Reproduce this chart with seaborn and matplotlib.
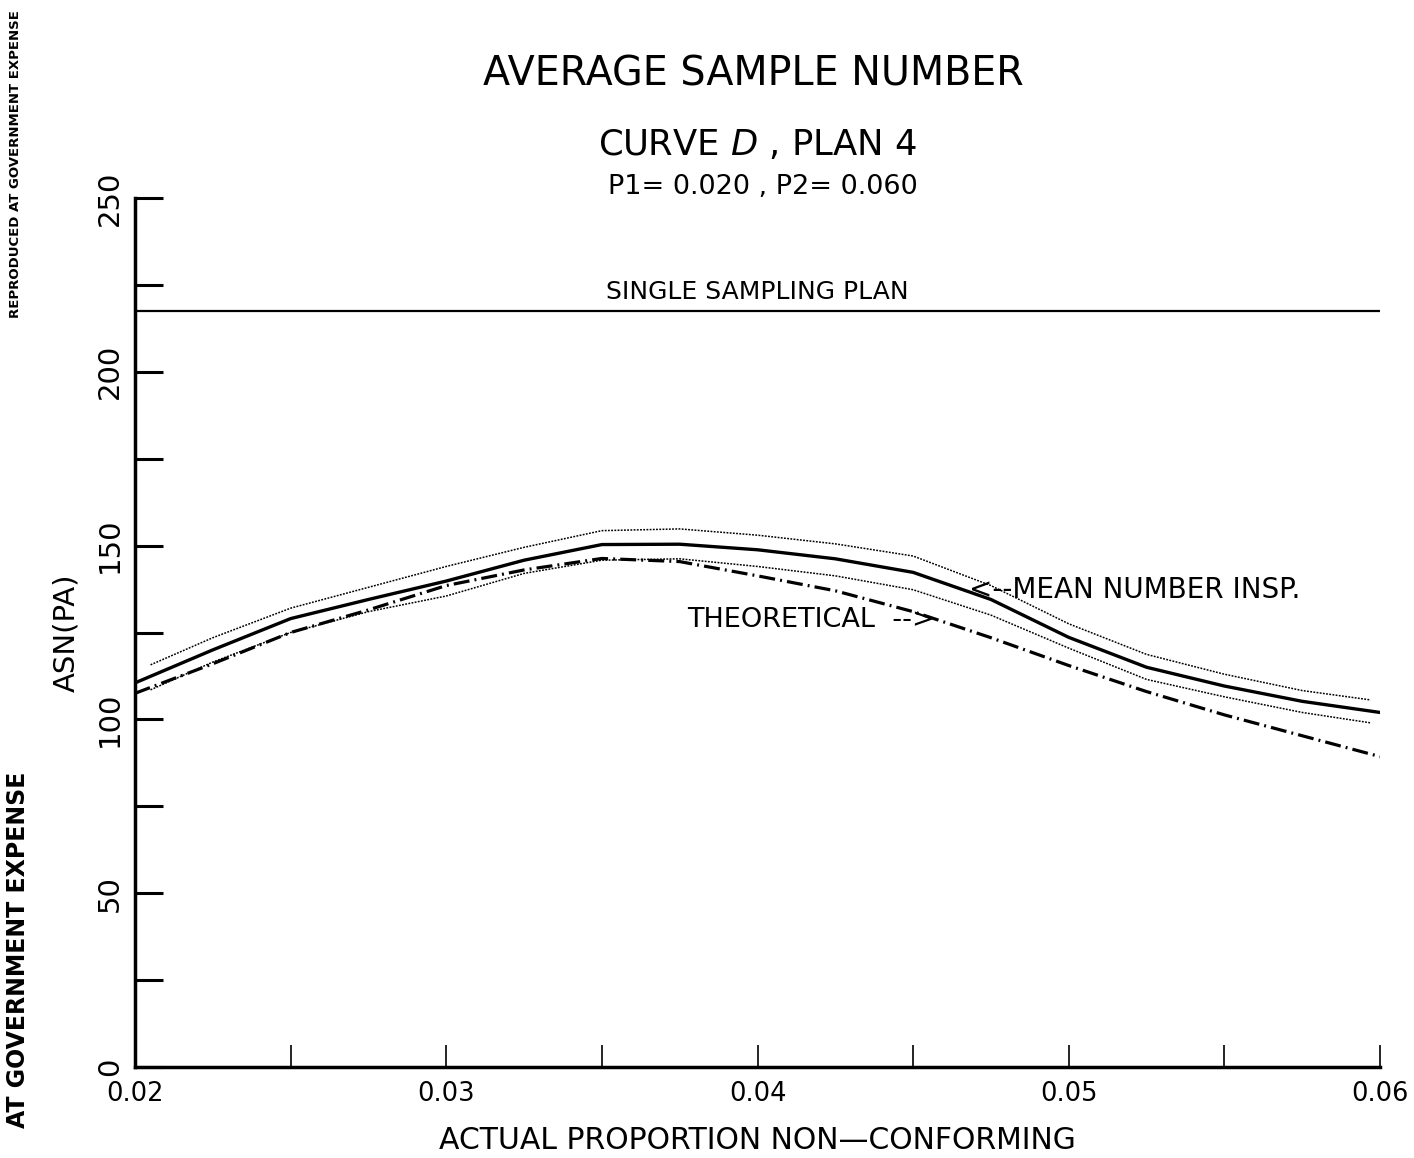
import numpy as np
import pandas as pd
import matplotlib
matplotlib.use("Agg")
import matplotlib.pyplot as plt
import seaborn as sns
from matplotlib.ticker import MultipleLocator, FormatStrFormatter

# ---- data ----
p = [0.0200, 0.0225, 0.0250, 0.0275, 0.0300, 0.0325, 0.0350, 0.0375, 0.0400,
     0.0425, 0.0450, 0.0475, 0.0500, 0.0525, 0.0550, 0.0575, 0.0600]
mean_insp = [110.5, 120.0, 129.0, 134.5, 139.8, 145.8, 150.3, 150.4, 148.8,
             146.2, 142.3, 134.5, 123.6, 115.0, 109.6, 105.2, 102.0]
theoretical = [107.5, 116.0, 125.0, 131.5, 138.5, 143.0, 146.3, 145.4, 141.3,
               137.0, 131.0, 123.5, 115.5, 108.0, 101.3, 95.3, 89.3]
p_band = [0.0205, 0.0225, 0.0250, 0.0275, 0.0300, 0.0325, 0.0350, 0.0375, 0.0400,
          0.0425, 0.0450, 0.0475, 0.0500, 0.0525, 0.0550, 0.0575, 0.0597]
upper_band = [115.7, 123.5, 132.0, 138.0, 144.0, 149.5, 154.3, 154.8, 153.0,
              150.5, 147.0, 138.5, 127.5, 118.7, 113.0, 108.3, 105.6]
lower_band = [108.5, 116.5, 125.0, 131.0, 135.5, 142.0, 145.8, 146.2, 144.0,
              141.3, 137.3, 130.0, 120.5, 111.5, 106.5, 102.0, 99.0]
single_plan_x = [0.02, 0.06]
single_plan_y = [217.5, 217.5]

x_ticks = [0.02, 0.03, 0.04, 0.05, 0.06]
y_ticks = [0, 50, 100, 150, 200, 250]

sns.set_style("ticks")
plt.rcParams['font.family'] = ['DejaVu Sans']
plt.rcParams['text.color'] = 'black'
plt.rcParams['axes.labelcolor'] = 'black'

fig = plt.figure(figsize=(14.14, 11.58), dpi=100)
ax = fig.add_axes([135/1414, 1-1067/1158, (1380-135)/1414, (1067-198)/1158])

df_mean = pd.DataFrame({"p": p, "asn": mean_insp})
df_theo = pd.DataFrame({"p": p, "asn": theoretical})
df_up = pd.DataFrame({"p": p_band, "asn": upper_band})
df_lo = pd.DataFrame({"p": p_band, "asn": lower_band})
df_single = pd.DataFrame({"p": single_plan_x, "asn": single_plan_y})

sns.lineplot(data=df_single, x="p", y="asn", ax=ax, color="black", lw=1.6)
sns.lineplot(data=df_up, x="p", y="asn", ax=ax, color="black", lw=1.1,
             linestyle=(0, (1.2, 0.9)))
sns.lineplot(data=df_lo, x="p", y="asn", ax=ax, color="black", lw=1.1,
             linestyle=(0, (1.2, 0.9)))
sns.lineplot(data=df_mean, x="p", y="asn", ax=ax, color="black", lw=2.4)
sns.lineplot(data=df_theo, x="p", y="asn", ax=ax, color="black", lw=2.3,
             linestyle=(0, (5, 1.6, 0.6, 1.6)))

ax.set_xlim(0.02, 0.06)
ax.set_ylim(0, 250)
ax.set_xticks(x_ticks)
ax.set_yticks(y_ticks)
ax.xaxis.set_minor_locator(MultipleLocator(0.005))
ax.yaxis.set_minor_locator(MultipleLocator(25))
ax.xaxis.set_major_formatter(FormatStrFormatter('%.2f'))
ax.tick_params(axis='x', which='both', direction='in', length=16, width=1.2,
               labelsize=18.5, pad=10, colors='black')
ax.tick_params(axis='y', which='both', direction='in', length=20, width=2.2,
               labelsize=21, pad=8, labelrotation=90, colors='black')
for lbl in ax.get_yticklabels():
    lbl.set_va('center')
sns.despine(ax=ax)
ax.spines['left'].set_linewidth(2.5)
ax.spines['bottom'].set_linewidth(2.5)
ax.spines['left'].set_color('black')
ax.spines['bottom'].set_color('black')

ax.set_xlabel("ACTUAL PROPORTION NON\u2014CONFORMING", fontsize=21.5, labelpad=14,
              color='black')
ax.set_ylabel("ASN(PA)", fontsize=21, color='black')
ax.yaxis.set_label_coords(-0.044, 0.5)

# titles
fig.text(753/1414, 1-75/1158, "AVERAGE SAMPLE NUMBER", ha='center', va='center',
         fontsize=28.5, color='black')
fig.text(757/1414, 1-145/1158, "CURVE $\\it{D}$ , PLAN 4", ha='center', va='center',
         fontsize=25.5, color='black')
fig.text(763/1414, 1-187/1158, "P1= 0.020 , P2= 0.060", ha='center', va='center',
         fontsize=19.5, color='black')

# annotations
ax.text(0.04, 219.5, "SINGLE SAMPLING PLAN", ha='center', va='bottom', fontsize=18,
        color='black')
ax.text(0.0457, 128.6, "THEORETICAL  -->", ha='right', va='center', fontsize=19.5,
        color='black')
ax.text(0.0468, 137.2, "<--MEAN NUMBER INSP.", ha='left', va='center', fontsize=20,
        color='black')

# scanner stamp on the left margin
fig.text(16/1414, 1-318/1158, "REPRODUCED AT GOVERNMENT EXPENSE", rotation=90,
         ha='center', va='bottom', fontsize=9.5, fontweight='bold', color='black')
fig.text(18/1414, 1-772/1158, "AT GOVERNMENT EXPENSE", rotation=90,
         ha='center', va='top', fontsize=17, fontweight='bold', color='black')

fig.savefig("out.png", dpi=100, facecolor='white')
